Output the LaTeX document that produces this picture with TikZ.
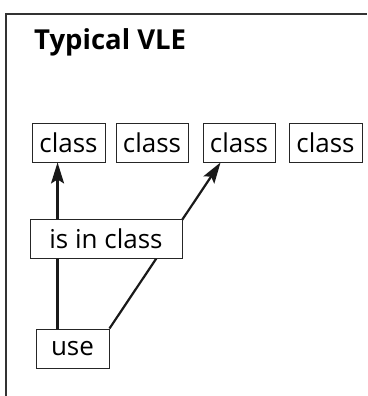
\documentclass[tikz,border=0pt]{standalone}
\usepackage{fontspec}
\setmainfont{Open Sans}
\usetikzlibrary{calc,arrows.meta}
\pgfdeclarelayer{background}
\pgfsetlayers{background,main}
\tikzset{
    vlebox/.style={draw=black!85,line width=0.9pt,fill=white,minimum height=39pt,inner sep=0pt,font=\fontsize{26}{30}\selectfont},
    vlelink/.style={line width=2.2pt,black!90}
}

\begin{document}
\begin{tikzpicture}[x=1pt,y=1pt]
                \useasboundingbox(0,0)rectangle(367,396);
                % Frame
                \draw[line width=1.1pt,black!80](6,0)--(6,382)--(367,382);
                \node[anchor=base west,inner sep=0pt,font=\fontsize{27.5}{32}\selectfont\bfseries](title)at(34,346){Typical VLE};
                % Classes
                \node[vlebox,minimum width=73pt](c1)at(68.5,253.5){class};
                \node[vlebox,minimum width=72pt](c2)at(152,253.5){class};
                \node[vlebox,minimum width=72pt](c3)at(239,253.5){class};
                \node[vlebox,minimum width=73pt](c4)at(325.5,253.5){class};
                % Relation and user
                \node[vlebox,minimum width=152pt](isin)at(106,157.5){is in class};
                \node[vlebox,minimum width=73pt](use)at(72.5,47.5){use};
                \coordinate(p1)at($(c1.south west)+(26,0)$);
                \coordinate(p3)at($(c3.south west)+(18,0)$);
                % Links
                \begin{pgfonlayer}{background}
                \draw[vlelink,-{Stealth[length=21pt,width=13pt,inset=4pt]}](use.north -| p1)--(p1);
                \draw[vlelink,-{Stealth[length=21pt,width=13pt,inset=4pt]}](use.north east)--(p3);
                \end{pgfonlayer}
\end{tikzpicture}
\end{document}
